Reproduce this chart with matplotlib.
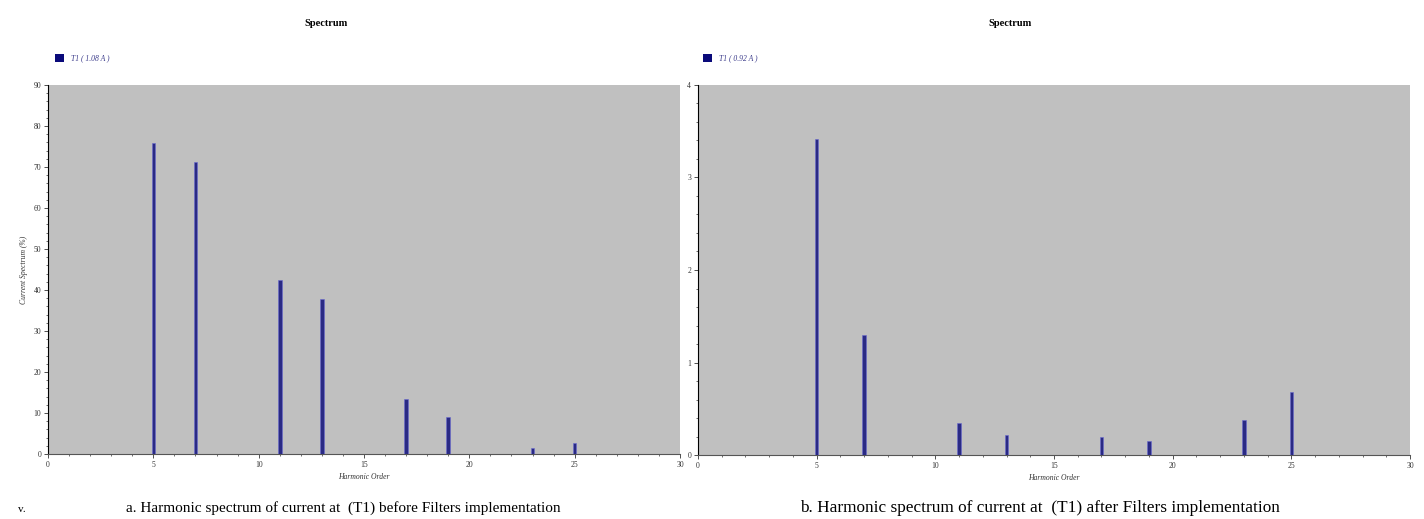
import matplotlib
matplotlib.use("Agg")
import matplotlib.pyplot as plt
from matplotlib.ticker import MultipleLocator
from matplotlib.patches import Rectangle

orders = [5, 7, 11, 13, 17, 19, 23, 25]
before_pct = [75.9, 71.2, 42.5, 37.8, 13.3, 9.0, 1.4, 2.7]
after_pct = [3.42, 1.30, 0.35, 0.22, 0.19, 0.15, 0.38, 0.68]
legend_before = "T1 ( 1.08 A )"
legend_after = "T1 ( 0.92 A )"
caption_a = "a. Harmonic spectrum of current at  (T1) before Filters implementation"
caption_b = "b. Harmonic spectrum of current at  (T1) after Filters implementation"

W, H = 1424, 519
fig = plt.figure(figsize=(W / 100, H / 100), dpi=100)
fig.patch.set_facecolor("white")

def fx(px):
    return px / W

def fy(py):
    return 1 - py / H

bar_color = "#2a2a85"
bg = "#c0c0c0"
serif = "Liberation Serif"

def make_panel(x0, x1, y0, y1, values, ymax, ymajor, yminor, legend, ylabel, title_x, legend_x, bw):
    ax = fig.add_axes([fx(x0), fy(y1), fx(x1 - x0), (y1 - y0) / H])
    ax.set_facecolor(bg)
    ax.bar(orders, values, width=bw, color=bar_color, edgecolor="#6a6ad0", linewidth=0.4, zorder=3)
    ax.set_xlim(0, 30)
    ax.set_ylim(0, ymax)
    ax.xaxis.set_major_locator(MultipleLocator(5))
    ax.xaxis.set_minor_locator(MultipleLocator(1))
    ax.yaxis.set_major_locator(MultipleLocator(ymajor))
    ax.yaxis.set_minor_locator(MultipleLocator(yminor))
    ax.tick_params(axis="both", which="major", labelsize=5.5, length=3, width=0.6, pad=2, colors="#333333")
    ax.tick_params(axis="both", which="minor", length=1.5, width=0.5, colors="#333333")
    for lab in ax.get_xticklabels() + ax.get_yticklabels():
        lab.set_fontfamily(serif)
    for s in ["top", "right"]:
        ax.spines[s].set_visible(False)
    ax.spines["left"].set_linewidth(0.8)
    ax.spines["bottom"].set_linewidth(0.8)
    ax.spines["bottom"].set_color("#555555")
    ax.set_xlabel("Harmonic Order", fontsize=5.5, fontstyle="italic", family=serif, labelpad=3, color="#333333")
    if ylabel:
        ax.set_ylabel(ylabel, fontsize=5.5, fontstyle="italic", family=serif, labelpad=4, color="#333333")
    fig.text(fx(title_x), fy(23), "Spectrum", ha="center", va="center", fontsize=7.5,
             fontweight="bold", family=serif)
    fig.patches.append(Rectangle((fx(legend_x), fy(62)), fx(9), 8 / H, transform=fig.transFigure,
                                 facecolor="#0a0a7a", edgecolor="none"))
    fig.text(fx(legend_x + 16), fy(58), legend, ha="left", va="center", fontsize=5.5,
             fontstyle="italic", family=serif, color="#3a3a8a")
    return ax

make_panel(48, 680, 85, 454, before_pct, 90, 10, 2, legend_before, "Current Spectrum (%)", 326, 55, 0.17)
make_panel(698, 1410, 85, 455, after_pct, 4, 1, 0.2, legend_after, None, 1010, 703, 0.15)

fig.text(fx(343), fy(508), caption_a, ha="center", va="center", fontsize=11, family=serif)
fig.text(fx(1040), fy(508), caption_b, ha="center", va="center", fontsize=12.4, family=serif)
fig.text(fx(18), fy(509), "v.", ha="left", va="center", fontsize=8, family=serif)

fig.savefig("out.png", dpi=100)
